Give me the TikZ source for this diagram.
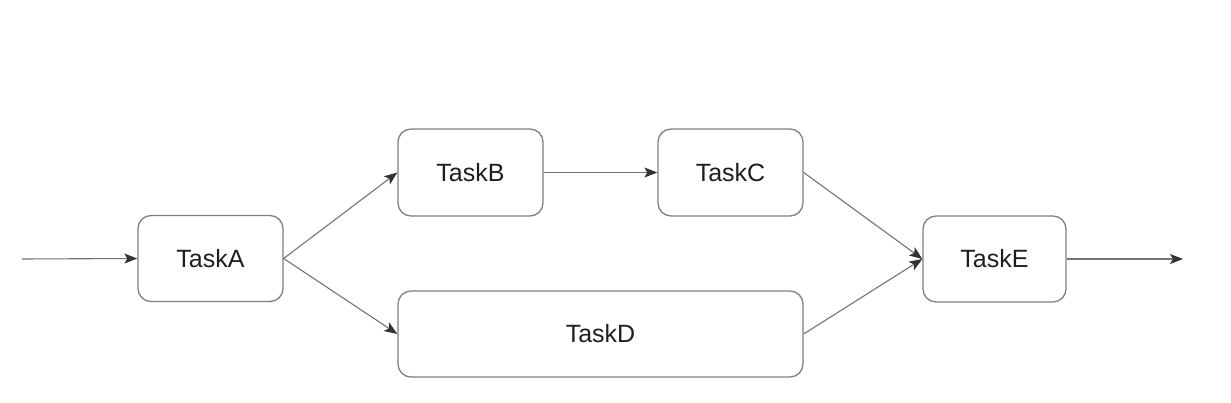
\documentclass[tikz,border=0pt]{standalone}
\usepackage{fontspec}
\setmainfont{Liberation Sans}
\usetikzlibrary{arrows.meta}
\begin{document}
\begin{tikzpicture}[x=1pt,y=-1pt,
  task/.style={draw=black!50,line width=1.3pt,rounded corners=13pt,fill=white,
    font=\fontsize{25}{29}\selectfont,text=black!88,inner sep=0pt},
  conn/.style={draw=black!55,line width=1.1pt,-{Stealth[length=13pt,width=10pt,inset=3pt,color=black!80]}}]
\useasboundingbox (0,0) rectangle (1231,403);
\node[task,minimum width=145pt,minimum height=86pt] (A) at (210.5,258.5) {TaskA};
\node[task,minimum width=145pt,minimum height=87pt] (B) at (470.5,172.5) {TaskB};
\node[task,minimum width=145pt,minimum height=87pt] (C) at (730.5,172.5) {TaskC};
\node[task,minimum width=405pt,minimum height=86pt] (D) at (600.5,334) {TaskD};
\node[task,minimum width=143pt,minimum height=86pt] (E) at (994.5,259) {TaskE};
\coordinate (in) at (22,259);
\coordinate (out) at (1183,259);
\draw[conn] (in) -- (A.west);
\draw[conn] (A.east) -- (B.west);
\draw[conn] (A.east) -- (D.west);
\draw[conn] (B.east) -- (C.west);
\draw[conn] (C.east) -- (E.west);
\draw[conn] (D.east) -- (E.west);
\draw[conn] (E.east) -- (out);
\end{tikzpicture}
\end{document}
